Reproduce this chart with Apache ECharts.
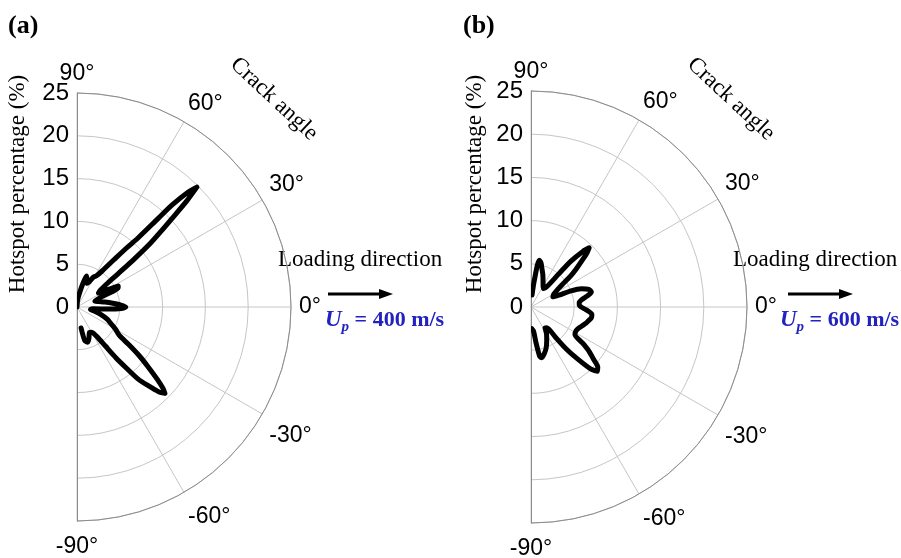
<!DOCTYPE html>
<html><head><meta charset="utf-8">
<script src="https://cdn.jsdelivr.net/npm/echarts@6/dist/echarts.min.js"></script>
<style>html,body{margin:0;padding:0;background:#fff}#c{width:901px;height:558px}</style>
</head><body><div id="c"></div>
<script>
// ---- data ----
const angleTicks = [-90, -60, -30, 0, 30, 60, 90];
const radiusTicks = [0, 5, 10, 15, 20, 25];
const panelLabels = ['(a)', '(b)'];
const speedLabels = ['400', '600'];

// panel (a): crack angle (deg) and hotspot percentage (%)
const angleA = [90, 85, 80, 76, 73, 70, 67, 64, 61, 58, 55, 52, 50, 48.5, 47.5, 47, 46, 45, 44, 43,
  42, 41, 40, 39, 38, 36, 33, 30, 27, 25, 23, 21, 18, 14, 10, 6, 3, 0, -2, -4,
  -6, -10, -14, -18, -22, -26, -30, -34, -36, -38, -40, -42, -43.5, -44.5, -46, -48, -49.7, -51, -52.5, -54,
  -56, -58, -60, -64, -69, -73, -77, -79];
const hotA = [0, 0.8, 1.6, 2.8, 3.8, 3.4, 3.0, 3.3, 4.0, 4.3, 5.2, 7.0, 9.0, 10.8, 14.0, 16.3, 18.6, 19.8, 17.8, 15.2,
  13.2, 11.4, 8.8, 6.2, 4.6, 3.4, 3.0, 4.0, 5.4, 5.3, 3.5, 2.6, 2.2, 2.6, 3.3, 4.2, 5.0, 5.7, 5.2, 3.5,
  1.9, 1.6, 2.2, 3.0, 3.8, 4.4, 5.2, 6.0, 7.5, 9.2, 10.8, 12.6, 13.9, 14.4, 13.8, 12.3, 11.0, 9.2, 7.5, 5.6,
  4.2, 3.6, 3.4, 3.3, 3.9, 4.3, 4.0, 2.5];

// panel (b)
const angleB = [85, 83, 80, 77, 74, 70, 65, 60, 55, 52, 50, 49, 47, 45.5, 44, 42, 40, 38, 36, 33,
  29, 25, 23, 22, 20, 17, 14, 11, 8, 5, 2, 0, -3, -7, -10, -14, -18, -23, -28, -32,
  -35, -37, -40, -42, -44, -46, -48, -50, -51, -53, -56, -60, -65, -70, -74, -78, -80, -82, -84, -88];
const hotB = [1.4, 3.0, 5.5, 5.2, 4.6, 4.0, 3.3, 2.8, 2.6, 3.0, 5.0, 7.0, 8.8, 9.6, 9.0, 7.8, 6.8, 5.8, 4.6, 3.6,
  3.0, 2.8, 3.5, 5.0, 6.2, 7.0, 7.2, 6.6, 5.9, 5.6, 5.6, 5.8, 6.4, 7.1, 7.1, 6.8, 6.5, 6.1, 5.9, 6.0,
  7.3, 8.3, 9.5, 10.4, 10.7, 10.0, 8.2, 6.3, 4.5, 3.0, 2.9, 3.6, 4.3, 5.1, 5.6, 6.0, 5.8, 4.2, 2.8, 2.5];

// ---- chart ----
const SANS = '"Liberation Sans", Arial, sans-serif';
const SERIF = '"Liberation Serif", "Times New Roman", serif';
const panels = [
  { cx: 77, cy: 307, r: 214, ang: angleA, val: hotA, dx: 0 },
  { cx: 531, cy: 307, r: 216, ang: angleB, val: hotB, dx: 455 }
];
const aMin = angleTicks[0], aMax = angleTicks[angleTicks.length - 1];
const aInt = angleTicks[1] - angleTicks[0];
const rMin = radiusTicks[0], rMax = radiusTicks[radiusTicks.length - 1];
const rInt = radiusTicks[1] - radiusTicks[0];
const GRID = '#c6c6c6', FRAME = '#8c8c8c';

const polar = [], angleAxis = [], radiusAxis = [], series = [], graphic = [];
panels.forEach((p, i) => {
  // main polar (right half, value v at math angle v)
  polar.push({ center: [p.cx, p.cy], radius: [0, p.r] });
  angleAxis.push({
    polarIndex: 2 * i, type: 'value', startAngle: -90, endAngle: 90, clockwise: false,
    min: aMin, max: aMax, interval: aInt,
    axisLine: { show: true, lineStyle: { color: FRAME, width: 1 } },
    axisTick: { show: false },
    splitLine: { show: true, lineStyle: { color: GRID, width: 1 } },
    axisLabel: {
      show: true, fontFamily: SANS, fontSize: 23, color: '#000', margin: 8,
      formatter: v => (v < 0 ? '{n|' + v + '°}' : v + '°'),
      rich: { n: { fontFamily: SANS, fontSize: 23, color: '#000', padding: [6, 0, 0, 0] } }
    }
  });
  radiusAxis.push({
    polarIndex: 2 * i, type: 'value', min: rMin, max: rMax, interval: rInt,
    axisLine: { show: true, lineStyle: { color: FRAME, width: 1 } },
    axisTick: { show: false }, axisLabel: { show: false },
    splitLine: { show: true, lineStyle: { color: GRID, width: 1 } }
  });
  // overlay polar: radius axis pointing up, carries the radial tick labels
  polar.push({ center: [p.cx, p.cy], radius: [0, p.r] });
  angleAxis.push({
    polarIndex: 2 * i + 1, type: 'value', startAngle: 90, endAngle: -90, clockwise: true,
    min: aMin, max: aMax, interval: aInt,
    axisLine: { show: false }, axisTick: { show: false }, splitLine: { show: false }, axisLabel: { show: false }
  });
  radiusAxis.push({
    polarIndex: 2 * i + 1, type: 'value', min: rMin, max: rMax, interval: rInt,
    axisLine: { show: true, lineStyle: { color: FRAME, width: 1 } },
    axisTick: { show: false }, splitLine: { show: false },
    axisLabel: { show: true, fontFamily: SANS, fontSize: 24, color: '#000', margin: 8 }
  });
  series.push({
    type: 'line', coordinateSystem: 'polar', polarIndex: 2 * i,
    data: p.ang.map((a, k) => [p.val[k], a]),
    showSymbol: false, symbol: 'none', smooth: 0.25, clip: false, z: 5,
    lineStyle: { color: '#000', width: 5, cap: 'round', join: 'round' }
  });

  const d = p.dx;
  graphic.push(
    { type: 'text', x: 8 + d, y: 26, style: { text: panelLabels[i], font: 'bold 26px ' + SERIF, fill: '#000', align: 'left', textAlign: 'left', verticalAlign: 'middle', textVerticalAlign: 'middle' } },
    { type: 'text', x: 18 + d + (i ? 2 : 0), y: 184, rotation: Math.PI / 2, style: { text: 'Hotspot percentage (%)', font: '23px ' + SERIF, fill: '#000', align: 'center', textAlign: 'center', verticalAlign: 'middle', textVerticalAlign: 'middle' } },
    { type: 'text', x: 274 + d + (i ? 2 : 0), y: 99, rotation: -43 * Math.PI / 180, style: { text: 'Crack angle', font: '23px ' + SERIF, fill: '#000', align: 'center', textAlign: 'center', verticalAlign: 'middle', textVerticalAlign: 'middle' } },
    { type: 'text', x: 278 + d, y: 260, style: { text: 'Loading direction', font: '23px ' + SERIF, fill: '#000', align: 'left', textAlign: 'left', verticalAlign: 'middle', textVerticalAlign: 'middle' } },
    { type: 'line', shape: { x1: 328 + d + (i ? 5 : 0), y1: 294, x2: 381 + d + (i ? 5 : 0), y2: 294 }, style: { stroke: '#000', lineWidth: 3 } },
    { type: 'polygon', shape: { points: [[393 + d + (i ? 5 : 0), 294], [379 + d + (i ? 5 : 0), 289], [379 + d + (i ? 5 : 0), 299]] }, style: { fill: '#000' } },
    { type: 'text', x: 325 + d, y: 320, style: {
        text: '{u|U}{s|p}{t| = ' + speedLabels[i] + ' m/s}', fill: '#2222c0', align: 'left', textAlign: 'left', verticalAlign: 'middle', textVerticalAlign: 'middle',
        rich: {
          u: { fontFamily: SERIF, fontSize: 23, fontWeight: 'bold', fontStyle: 'italic', fill: '#2222c0', color: '#2222c0', lineHeight: 30 },
          s: { fontFamily: SERIF, fontSize: 15, fontWeight: 'bold', fontStyle: 'italic', fill: '#2222c0', color: '#2222c0', lineHeight: 30, verticalAlign: 'bottom' },
          t: { fontFamily: SERIF, fontSize: 22, fontWeight: 'bold', fill: '#2222c0', color: '#2222c0', lineHeight: 30 }
        } } }
  );
});

const chart = echarts.init(document.getElementById('c'), null, { renderer: 'canvas' });
chart.setOption({
  animation: false,
  backgroundColor: '#fff',
  polar, angleAxis, radiusAxis, series,
  graphic: { elements: graphic }
});
</script></body></html>
